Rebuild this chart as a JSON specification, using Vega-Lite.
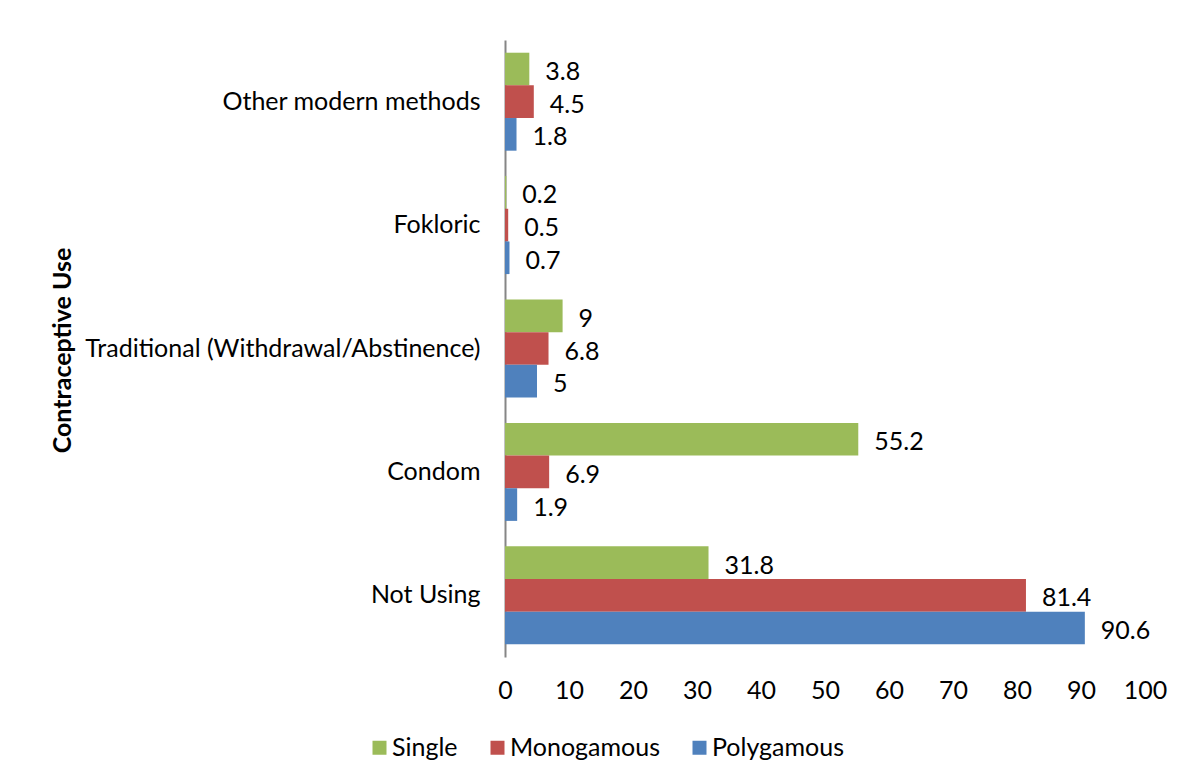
{
  "$schema": "https://vega.github.io/schema/vega-lite/v6.json",
  "autosize": "none",
  "width": 640,
  "height": 617,
  "padding": {"left": 505, "top": 40, "right": 34, "bottom": 125},
  "background": "white",
  "config": {
    "font": "Lato",
    "view": {"stroke": null},
    "axis": {"labelFont": "Lato", "titleFont": "Lato", "labelColor": "#000000", "titleColor": "#000000", "grid": false}
  },
  "data": {
    "values": [
      {"method": "Other modern methods", "status": "Single", "pct": 3.8},
      {"method": "Other modern methods", "status": "Monogamous", "pct": 4.5},
      {"method": "Other modern methods", "status": "Polygamous", "pct": 1.8},
      {"method": "Fokloric", "status": "Single", "pct": 0.2},
      {"method": "Fokloric", "status": "Monogamous", "pct": 0.5},
      {"method": "Fokloric", "status": "Polygamous", "pct": 0.7},
      {"method": "Traditional (Withdrawal/Abstinence)", "status": "Single", "pct": 9},
      {"method": "Traditional (Withdrawal/Abstinence)", "status": "Monogamous", "pct": 6.8},
      {"method": "Traditional (Withdrawal/Abstinence)", "status": "Polygamous", "pct": 5},
      {"method": "Condom", "status": "Single", "pct": 55.2},
      {"method": "Condom", "status": "Monogamous", "pct": 6.9},
      {"method": "Condom", "status": "Polygamous", "pct": 1.9},
      {"method": "Not Using", "status": "Single", "pct": 31.8},
      {"method": "Not Using", "status": "Monogamous", "pct": 81.4},
      {"method": "Not Using", "status": "Polygamous", "pct": 90.6}
    ]
  },
  "encoding": {
    "y": {
      "field": "method",
      "type": "nominal",
      "sort": ["Other modern methods", "Fokloric", "Traditional (Withdrawal/Abstinence)", "Condom", "Not Using"],
      "scale": {"paddingInner": 0.206, "paddingOuter": 0.103},
      "axis": {
        "title": "Contraceptive Use",
        "titleFontSize": 25,
        "titleFontWeight": "bold",
        "titleX": -443,
        "titleY": 310,
        "titleAngle": -90,
        "titleBaseline": "middle",
        "labelFontSize": 25,
        "labelPadding": 25,
        "ticks": false,
        "domainColor": "#868686",
        "domainWidth": 2,
        "labelLimit": 500
      }
    },
    "yOffset": {
      "field": "status",
      "type": "nominal",
      "sort": ["Single", "Monogamous", "Polygamous"],
      "scale": {"paddingInner": 0, "paddingOuter": 0}
    },
    "x": {
      "field": "pct",
      "type": "quantitative",
      "scale": {"domain": [0, 100], "nice": false},
      "axis": {
        "title": null,
        "values": [0, 10, 20, 30, 40, 50, 60, 70, 80, 90, 100],
        "labelFontSize": 25,
        "labelPadding": 21,
        "ticks": false,
        "domain": false,
        "labelFlush": false
      }
    }
  },
  "layer": [
    {
      "mark": {"type": "bar"},
      "encoding": {
        "color": {
          "field": "status",
          "type": "nominal",
          "sort": ["Single", "Monogamous", "Polygamous"],
          "scale": {"domain": ["Single", "Monogamous", "Polygamous"], "range": ["#9BBB59", "#C0504D", "#4F81BD"]},
          "legend": {
            "title": null,
            "orient": "none",
            "direction": "horizontal",
            "legendX": -138,
            "legendY": 695,
            "symbolType": "square",
            "symbolSize": 196,
            "symbolStrokeWidth": 0,
            "labelFont": "Lato",
            "labelFontSize": 25,
            "labelColor": "#000000",
            "labelOffset": 0,
            "columnPadding": 27
          }
        }
      }
    },
    {
      "mark": {"type": "text", "align": "left", "baseline": "middle", "dx": 16, "dy": 3, "fontSize": 25, "font": "Lato", "color": "#000000"},
      "encoding": {"text": {"field": "pct", "type": "quantitative"}}
    }
  ]
}
